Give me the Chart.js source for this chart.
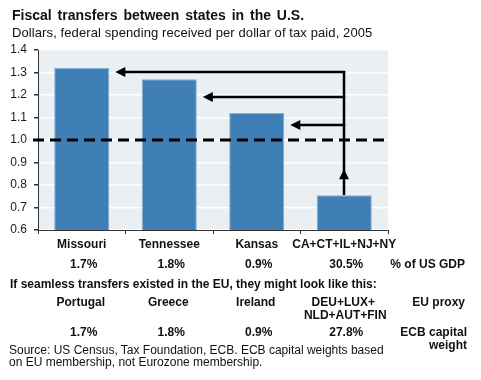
<!DOCTYPE html>
<html>
<head>
<meta charset="utf-8">
<script src="https://cdn.jsdelivr.net/npm/chart.js@4/dist/chart.umd.min.js"></script>
<style>
  body { margin: 0; background: #fff; }
  #wrap { position: relative; width: 481px; height: 380px; font-family: 'Liberation Sans', Arial, sans-serif; color: #111; }
  #chart { position: absolute; left: 0; top: 0; }
  .t { position: absolute; white-space: nowrap; font-size: 12px; line-height: 13px; }
  .b { font-weight: bold; }
  .c { transform: translate(-50%, -50%); text-align: center; }
  .r { transform: translate(-100%, -50%); text-align: right; }
  .l { transform: translate(0, -50%); }
  #title { left: 12px; top: 15px; font-size: 14px; font-weight: bold; word-spacing: 2px; }
  #subtitle { left: 12px; top: 32px; font-size: 13px; letter-spacing: 0.1px; }
</style>
</head>
<body>
<div id="wrap">
  <canvas id="chart" width="481" height="380"></canvas>
  <div class="t l" id="title">Fiscal transfers between states in the U.S.</div>
  <div class="t l" id="subtitle">Dollars, federal spending received per dollar of tax paid, 2005</div>
  <div id="rows"></div>
</div>
<script>
// data
const categories = ['Missouri', 'Tennessee', 'Kansas', 'CA+CT+IL+NJ+NY'];
const spendingPerDollar = [1.32, 1.27, 1.12, 0.755];
const gdpShares = ['1.7%', '1.8%', '0.9%', '30.5%'];
const euProxies = [['Portugal'], ['Greece'], ['Ireland'], ['DEU+LUX+', 'NLD+AUT+FIN']];
const ecbWeights = ['1.7%', '1.8%', '0.9%', '27.8%'];
const yMin = 0.6, yMax = 1.4, yStep = 0.1;
const breakEven = 1.0;
// heights of the transfer arrows going to Missouri, Tennessee, Kansas
const arrowLevels = [1.30, 1.19, 1.065];
const upArrowTip = 0.87;

Chart.defaults.font.family = "'Liberation Sans', Arial, sans-serif";
Chart.defaults.font.size = 12;
Chart.defaults.color = '#1a1a1a';

const plotBackground = {
  id: 'plotBackground',
  beforeDraw(chart) {
    const { ctx, chartArea: a } = chart;
    ctx.save();
    ctx.fillStyle = '#E9EFF3';
    ctx.fillRect(a.left, a.top, a.right - a.left, a.bottom - a.top);
    ctx.restore();
  }
};

function arrowHead(ctx, x, y, dir) {
  // dir: 'left' or 'up', tip at (x, y)
  ctx.beginPath();
  if (dir === 'left') {
    ctx.moveTo(x, y);
    ctx.lineTo(x + 10, y - 5);
    ctx.lineTo(x + 10, y + 5);
  } else {
    ctx.moveTo(x, y);
    ctx.lineTo(x - 5, y + 10);
    ctx.lineTo(x + 5, y + 10);
  }
  ctx.closePath();
  ctx.fill();
}

const transfers = {
  id: 'transfers',
  afterDatasetsDraw(chart) {
    const { ctx, chartArea: a } = chart;
    const y = chart.scales.y;
    const bars = chart.getDatasetMeta(0).data;

    // break-even dashed line
    ctx.save();
    ctx.strokeStyle = '#000';
    ctx.lineWidth = 3;
    ctx.setLineDash([11, 6]);
    const yb = Math.round(y.getPixelForValue(breakEven));
    ctx.beginPath();
    ctx.moveTo(a.left - 5, yb);
    ctx.lineTo(a.right, yb);
    ctx.stroke();
    ctx.restore();

    // arrows from the donor states to the recipients
    const src = bars[bars.length - 1];
    const x0 = Math.round(src.x);
    ctx.save();
    ctx.strokeStyle = '#000';
    ctx.fillStyle = '#000';
    ctx.lineWidth = 2.5;
    const yTop = y.getPixelForValue(arrowLevels[0]);
    ctx.beginPath();
    ctx.moveTo(x0, src.y);
    ctx.lineTo(x0, yTop - 1.25);
    ctx.stroke();
    arrowHead(ctx, x0, y.getPixelForValue(upArrowTip), 'up');

    arrowLevels.forEach((lvl, i) => {
      const bar = bars[i];
      const tipX = bar.x + bar.width / 2 + 6;
      const yy = Math.round(y.getPixelForValue(lvl));
      ctx.beginPath();
      ctx.moveTo(x0 + 1.25, yy);
      ctx.lineTo(tipX + 6, yy);
      ctx.stroke();
      arrowHead(ctx, tipX, yy, 'left');
    });
    ctx.restore();
  }
};

const chart = new Chart(document.getElementById('chart'), {
  type: 'bar',
  data: {
    labels: categories,
    datasets: [{
      data: spendingPerDollar,
      backgroundColor: '#3F7FB5',
      borderColor: '#86B2D6',
      borderWidth: 1,
      barPercentage: 0.63,
      categoryPercentage: 1
    }]
  },
  options: {
    responsive: false,
    animation: false,
    layout: { padding: { top: 50, right: 93, left: 0, bottom: 0 } },
    plugins: { legend: { display: false }, tooltip: { enabled: false } },
    scales: {
      x: {
        afterFit: (s) => { s.height = 150; },
        grid: { drawOnChartArea: false, tickLength: 4, tickColor: '#333', offset: true },
        border: { color: '#333', width: 1 },
        ticks: {
          autoSkip: false, maxRotation: 0, minRotation: 0, padding: 3,
          font: { weight: 'bold', size: 12 }, color: '#111'
        }
      },
      y: {
        min: yMin,
        max: yMax,
        afterFit: (s) => { s.width = 38; },
        grid: { color: '#ffffff', lineWidth: 1.5, tickLength: 4, tickColor: '#333' },
        border: { color: '#333', width: 1 },
        ticks: {
          stepSize: yStep, padding: 7, color: '#1a1a1a',
          callback: (v) => Number(v).toFixed(1)
        }
      }
    }
  },
  plugins: [plotBackground, transfers]
});

// rows of text below the chart, centred on the category positions
const rows = document.getElementById('rows');
function addText(txt, x, y, cls) {
  const d = document.createElement('div');
  d.className = 't ' + cls;
  d.style.left = x + 'px';
  d.style.top = y + 'px';
  d.textContent = txt;
  rows.appendChild(d);
}
const xs = categories.map((_, i) => chart.scales.x.getPixelForValue(i));

gdpShares.forEach((s, i) => addText(s, xs[i] + 2, 264, 'b c'));
addText('% of US GDP', 465, 264, 'b r');
addText('If seamless transfers existed in the EU, they might look like this:', 10, 284, 'b l');
euProxies.forEach((lines, i) => lines.forEach((s, k) => addText(s, xs[i] + (k ? 1 : -1), 302 + k * 13, 'b c')));
addText('EU proxy', 465, 302, 'b r');
ecbWeights.forEach((s, i) => addText(s, xs[i] + 2, 332, 'b c'));
addText('ECB capital', 467, 332, 'b r');
addText('weight', 467, 345, 'b r');
addText('Source: US Census, Tax Foundation, ECB. ECB capital weights based', 9, 350, 'l');
addText('on EU membership, not Eurozone membership.', 9, 362, 'l');
</script>
</body>
</html>
